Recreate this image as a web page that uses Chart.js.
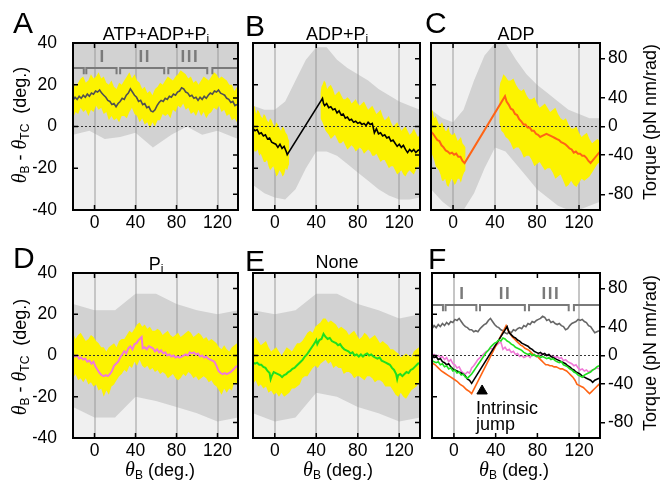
<!DOCTYPE html>
<html>
<head>
<meta charset="utf-8">
<script src="https://cdn.jsdelivr.net/npm/chart.js@4.4.1/dist/chart.umd.min.js"></script>
<style>
body { margin: 0; background: #fff; }
#wrap { position: relative; width: 660px; height: 487px; overflow: hidden; font-family: "Liberation Sans", Arial, sans-serif; }
#wrap canvas { position: absolute; left: 0; top: 0; }
.t { position: absolute; white-space: nowrap; color: #000; line-height: 1; z-index: 5; }
.let { font-size: 30px; }
.ttl { font-size: 18px; transform: translateX(-50%); }
.ax { font-size: 18px; }
.rot { transform: translate(-50%, -50%) rotate(-90deg); }
.hc { transform: translateX(-50%); }
.th { font-family: "Liberation Serif", serif; font-style: italic; font-size: 20px; }
sub { font-size: 12px; vertical-align: -3px; line-height: 0; }
</style>
</head>
<body>
<div id="wrap">
  <div class="t let" style="left:13px;top:8px">A</div>
  <div class="t let" style="left:245px;top:11px">B</div>
  <div class="t let" style="left:425px;top:8px">C</div>
  <div class="t let" style="left:13px;top:243px">D</div>
  <div class="t let" style="left:245px;top:246px">E</div>
  <div class="t let" style="left:428px;top:244px">F</div>

  <div class="t ttl" style="left:156px;top:25px">ATP+ADP+P<sub>i</sub></div>
  <div class="t ttl" style="left:337px;top:25px">ADP+P<sub>i</sub></div>
  <div class="t ttl" style="left:516px;top:25px">ADP</div>
  <div class="t ttl" style="left:156px;top:255px">P<sub>i</sub></div>
  <div class="t ttl" style="left:337px;top:253px">None</div>

  <div class="t ax rot" style="left:19px;top:125px"><span class="th">θ</span><sub>B</sub> - <span class="th">θ</span><sub>TC</sub>&nbsp; (deg.)</div>
  <div class="t ax rot" style="left:19px;top:357px"><span class="th">θ</span><sub>B</sub> - <span class="th">θ</span><sub>TC</sub>&nbsp; (deg.)</div>
  <div class="t ax rot" style="left:650px;top:122px">Torque (pN nm/rad)</div>
  <div class="t ax rot" style="left:650px;top:353px">Torque (pN nm/rad)</div>

  <div class="t ax hc" style="left:160px;top:459px"><span class="th">θ</span><sub>B</sub> (deg.)</div>
  <div class="t ax hc" style="left:338px;top:459px"><span class="th">θ</span><sub>B</sub> (deg.)</div>
  <div class="t ax hc" style="left:514px;top:459px"><span class="th">θ</span><sub>B</sub> (deg.)</div>

  <div class="t" style="left:476px;top:400px;font-size:18px;line-height:16px">Intrinsic<br>jump</div>
</div>

<script>
// axis values
const xMin = -21, xMax = 140;
const xTicks = [0, 40, 80, 120];
const degTicks = [-40, -20, 0, 20, 40];
const torqueTicks = [-80, -40, 0, 40, 80];
const torqueAt = [-32.5, -13.7, 0, 13.7, 32.5];   // deg position of each torque label

// dwell brackets (A and F)
const bracketStart = [-22, -8, 25, 72, 115];
const bracketEnd = [-10.5, 21.5, 68, 110, 141];
const romanText = ['I', 'II', 'III'];
const romanX = [8, 49, 93];

// mean traces [thetaB, thetaB - thetaTC]
const traceA = [[-21,12.5],[-19,14],[-17,13],[-15,14.5],[-13,13.5],[-11,15],[-9,14],[-7,15.5],[-5,14.5],[-3,16],[-1,15.5],[1,17],[3,16.5],[5,17.5],[7,16],[9,15],[11,14],[13,12.5],[15,12],[17,10.5],[19,11],[21,9.5],[23,11],[25,12],[27,13.5],[29,13],[31,15],[33,16],[35,18],[37,16.5],[39,15],[41,14],[43,12],[45,12.5],[47,10.5],[49,11],[51,9],[53,9.5],[55,7.5],[57,7],[59,8],[61,10],[63,11.5],[65,12.5],[67,12],[69,13.5],[71,13],[73,14.5],[75,14],[77,15.5],[79,15],[81,16.5],[83,17],[85,18.5],[87,18],[89,16.5],[91,16],[93,14.5],[95,15],[97,13.5],[99,14],[101,12.5],[103,14],[105,13],[107,14.5],[109,13.5],[111,15],[113,16],[115,15.5],[117,17],[119,16.5],[121,17.5],[123,16],[125,15.5],[127,15],[129,13.5],[131,13],[133,11.5],[135,12],[137,10],[139,10.5]];
const traceB = [[-21,-1],[-19,-2],[-17,-1.5],[-15,-3.5],[-13,-3],[-11,-4.5],[-9,-4],[-7,-6],[-5,-5.5],[-3,-7.5],[-1,-8],[1,-8.5],[3,-10],[5,-8.5],[7,-10.5],[9,-9.5],[11,-12],[12,-13.5],[46,13.5],[47,11],[48,10],[50,11],[52,9],[54,9.5],[56,8],[58,8.5],[60,6.5],[62,7.5],[64,5.5],[66,6],[68,4],[70,4.5],[72,3],[74,3.5],[76,2],[78,2.5],[80,1.5],[82,2],[84,1],[86,1.5],[88,0.5],[90,2],[92,1],[94,1.5],[96,-3],[98,-1],[100,-3.5],[102,-3],[104,-4.5],[106,-4],[108,-5.5],[110,-5],[112,-7],[114,-6.5],[116,-8],[118,-9.5],[120,-8.5],[122,-10],[124,-9],[126,-11],[128,-12.5],[130,-11],[132,-12],[134,-11],[136,-12.5],[138,-11.5],[140,-11]];
const traceC = [[-21,-2.5],[-19,-3.5],[-17,-5],[-15,-6.5],[-13,-7],[-11,-9],[-9,-10],[-7,-11.5],[-5,-12],[-3,-13],[-1,-12.5],[1,-13.5],[3,-13],[5,-14.5],[7,-14.5],[9,-16.5],[11,-17.5],[49.5,14.5],[51,12],[53,10.5],[55,8.5],[57,8],[59,6],[61,5.5],[63,3.5],[65,2.5],[67,1],[69,1],[71,-0.5],[73,-0.5],[75,-2],[77,-2],[79,-3.5],[81,-4],[83,-5],[85,-4.5],[87,-4],[89,-3.5],[91,-4],[93,-4.5],[95,-5],[97,-5.5],[99,-6],[101,-6.5],[103,-7.5],[105,-8],[107,-8.5],[109,-9.5],[111,-10.5],[113,-11],[115,-12.5],[117,-12],[119,-13],[121,-13],[123,-14],[125,-14],[127,-15],[129,-16.5],[131,-17.5],[140,-12]];
const traceD = [[-21,0.5],[-19,-0.5],[-17,0],[-15,-1.5],[-13,-1],[-11,-2],[-9,-1.5],[-7,-3],[-5,-2.5],[-3,-4],[-1,-3],[1,-5.5],[3,-7],[5,-8.5],[7,-9.5],[9,-10],[11,-9.5],[13,-10],[15,-9],[17,-7.5],[19,-5],[21,-4],[23,-3],[25,-1],[27,0.5],[29,2],[31,1],[33,3.5],[35,4.5],[37,3],[39,5.5],[41,6],[43,7.5],[45,8.5],[46,9],[47,3.5],[49,4],[51,3],[53,4.5],[55,4],[57,3.5],[59,2],[61,3],[63,1.5],[65,2.5],[67,1],[69,1.5],[71,0],[73,0.5],[75,-0.5],[77,0],[79,-1],[81,-0.5],[83,-1],[85,-0.5],[87,0],[89,0.5],[91,0],[93,1.5],[95,1],[97,1.5],[99,0.5],[101,1],[103,-0.5],[105,0],[107,-1],[109,-0.5],[111,-1.5],[113,-2],[115,-2.5],[117,-3],[119,-5],[121,-7.5],[123,-8.5],[125,-9],[127,-8.5],[129,-9],[131,-8.5],[133,-8],[135,-7],[137,-6],[139,-5]];
const traceE = [[-21,-3.5],[-19,-4],[-17,-3.5],[-15,-4.5],[-13,-4.5],[-11,-5.5],[-9,-6],[-7,-7.5],[-5,-8.5],[-4,-11.5],[-3,-10],[-1,-8],[1,-8.5],[3,-9],[5,-9.5],[7,-10.5],[9,-9.5],[11,-9],[13,-8],[15,-7.5],[17,-6.5],[19,-6],[21,-5],[23,-4],[25,-3],[27,-2],[29,-0.5],[31,0.5],[33,2],[35,3.5],[37,5],[39,6.5],[40,7.5],[41,5.5],[43,7.5],[45,8],[47,10.5],[49,9],[51,8],[53,8.5],[55,7],[57,6.5],[59,6],[61,5],[63,5.5],[65,4],[67,3],[69,2.5],[71,2],[73,1],[75,1.5],[77,0],[79,0.5],[81,-0.5],[83,0.5],[85,-0.5],[87,0.5],[89,1],[91,0],[93,0.5],[95,-0.5],[97,-1],[99,-1.5],[101,-1],[103,-2.5],[105,-3],[107,-3.5],[109,-4],[111,-4.5],[113,-6],[115,-7],[117,-9],[118,-11.5],[119,-9.5],[121,-9],[123,-10],[125,-9],[127,-8],[129,-8.5],[131,-7],[133,-6.5],[135,-5.5],[137,-4.5],[139,-3.5]];

// panel F traces
const fGray = [[-21,13],[-19,14.5],[-17,13.5],[-15,15],[-13,14],[-11,15.5],[-9,14.5],[-7,16],[-5,15],[-3,16.5],[-1,16],[1,17.5],[3,17],[5,18],[7,16.5],[9,15],[11,14],[13,13.5],[15,12.5],[17,12.5],[19,11.5],[21,12],[23,11.5],[25,13],[27,14],[29,15],[31,15.5],[33,17],[35,18],[37,16.5],[39,15],[41,14],[43,13.5],[45,12.5],[47,12],[49,11],[51,10.5],[53,11.5],[55,11],[57,12.5],[59,12],[61,13],[63,13.5],[65,13],[67,14.5],[69,14],[71,15.5],[73,15],[75,16.5],[77,16],[79,17],[81,17.5],[83,18],[85,19],[87,18.5],[89,17],[91,17.5],[93,16],[95,16.5],[97,15.5],[99,15],[101,15.5],[103,14.5],[105,14],[107,12.5],[109,13],[111,14.5],[113,15.5],[115,16],[117,16.5],[119,17.5],[121,17],[123,17.5],[125,16.5],[127,16],[129,14.5],[131,14],[133,12.5],[135,11],[137,11.5],[139,12]];
const fBlack = [[-21,0],[-19,-1],[-17,-0.5],[-15,-2],[-13,-1.5],[-11,-3],[-9,-3.5],[-7,-4.5],[-5,-4],[-3,-5.5],[-1,-6.5],[1,-7],[3,-7.5],[5,-8],[7,-8.5],[9,-9],[11,-10],[13,-11.5],[15,-12],[17,-13.5],[51,14],[53,11],[55,10],[57,9],[59,8.5],[61,7.5],[63,7],[65,6],[67,5.5],[69,5],[71,4.5],[73,3.5],[75,3],[77,2],[79,1.5],[81,1],[83,1.5],[85,0.5],[87,1],[89,0],[91,0.5],[93,-0.5],[95,-1],[97,-1.5],[99,-2],[101,-2.5],[103,-3],[105,-3.5],[107,-4],[109,-5],[111,-5.5],[113,-6.5],[115,-7],[117,-8],[119,-8.5],[121,-9],[123,-10],[125,-10.5],[127,-11],[129,-11.5],[131,-12],[133,-13],[135,-12],[137,-11.5],[139,-11]];
const fOrange = [[-21,-3.5],[-18,-4.5],[-15,-6],[-12,-7.5],[-9,-8.5],[-6,-9.5],[-3,-10.5],[0,-11.5],[3,-12.5],[6,-14],[9,-15],[12,-16.5],[15,-17.5],[17,-18.5],[50,14.5],[52,12],[54,10.5],[56,9],[58,8],[60,7],[62,6],[64,5],[66,4.5],[68,3.5],[70,3],[72,2.5],[74,1.5],[76,0.5],[78,0],[80,-0.5],[82,-1.5],[84,-2.5],[86,-3.5],[88,-4.5],[90,-4.5],[92,-5],[94,-5],[96,-5.5],[98,-5.5],[100,-6],[102,-6.5],[104,-6.5],[106,-7],[108,-7.5],[110,-8.5],[112,-9.5],[114,-10.5],[116,-12],[118,-14],[120,-14.5],[122,-15],[124,-15.5],[126,-16.5],[128,-17.5],[130,-18.5],[132,-17.5],[134,-16.5],[136,-15.5],[138,-14.5],[140,-13.5]];
const fPink = [[-21,0],[-19,0.5],[-17,-0.5],[-15,0],[-13,-1],[-11,-0.5],[-9,-2],[-7,-1],[-5,-3],[-3,-2],[-1,-4],[1,-4.5],[3,-6],[5,-5.5],[7,-7.5],[9,-8.5],[11,-9],[13,-8],[15,-8.5],[17,-6],[19,-5],[21,-3.5],[23,-2],[25,-1],[27,0],[29,1],[31,2],[33,2.5],[35,3.5],[37,3],[39,4.5],[41,5],[43,6],[45,6.5],[47,3],[49,4],[51,2.5],[53,3],[55,1.5],[57,2],[59,0.5],[61,1],[63,-0.5],[65,0],[67,-1],[69,-0.5],[71,0],[73,-1],[75,0.5],[77,0],[79,-0.5],[81,0.5],[83,0],[85,1],[87,0.5],[89,0],[91,0.5],[93,-0.5],[95,0],[97,-1],[99,-0.5],[101,-1.5],[103,-1],[105,-2.5],[107,-2],[109,-3],[111,-3.5],[113,-4],[115,-5],[117,-4.5],[119,-6],[121,-7],[123,-6.5],[125,-7.5],[127,-7],[129,-8],[131,-7.5],[133,-7],[135,-6.5],[137,-6],[139,-6.5]];
const fGreen = [[-21,-2.5],[-19,-3],[-17,-3.5],[-15,-3],[-13,-4.5],[-11,-4],[-9,-5.5],[-7,-5],[-5,-6.5],[-3,-6],[-1,-7.5],[1,-7],[3,-8.5],[5,-8],[7,-9.5],[9,-9],[11,-10.5],[13,-11],[15,-10],[17,-9],[19,-7.5],[21,-6],[23,-4.5],[25,-3],[27,-1.5],[29,0],[31,1.5],[33,2.5],[35,4],[37,5],[39,6],[41,6.5],[43,7.5],[45,7],[47,8.5],[49,8],[51,7],[53,6.5],[55,5.5],[57,5],[59,4],[61,3.5],[63,3],[65,2.5],[67,1.5],[69,1],[71,0.5],[73,1],[75,0],[77,0.5],[79,-0.5],[81,0],[83,-1],[85,-0.5],[87,-1],[89,-1.5],[91,-1],[93,-2],[95,-1.5],[97,-2.5],[99,-3],[101,-3.5],[103,-3],[105,-4.5],[107,-5],[109,-5.5],[111,-6.5],[113,-7],[115,-8],[117,-8.5],[119,-9.5],[121,-10],[123,-10.5],[125,-9.5],[127,-9],[129,-8.5],[131,-8],[133,-7],[135,-6.5],[137,-5.5],[139,-5]];
const jumpMark = [[27, -17.2]];

// yellow clouds [thetaB, upper, lower]
const yellowA = [[-21,22,4],[-18.5,19,7],[-16,21,6],[-13.5,23,9],[-11,24,7],[-8.5,21,8],[-6,22,5],[-3.5,25,8],[-1,23,7],[1.5,24,10],[4,26,8],[6.5,23,9],[9,24,6],[11.5,21,7],[14,20,3],[16.5,22,5],[19,19,3],[21.5,18,4],[24,21,2],[26.5,20,5],[29,22,5],[31.5,24,4],[34,26,7],[36.5,23,9],[39,25,6],[41.5,22,5],[44,21,2],[46.5,18,4],[49,19,1],[51.5,16,2],[54,17,-1],[56.5,15,2],[59,18,0],[61.5,19,3],[64,21,3],[66.5,20,6],[69,22,5],[71.5,24,6],[74,23,4],[76.5,22,8],[79,24,7],[81.5,25,10],[84,27,9],[86.5,26,11],[89,25,8],[91.5,23,9],[94,24,6],[96.5,21,7],[99,22,5],[101.5,20,8],[104,22,5],[106.5,24,7],[109,23,4],[111.5,22,6],[114,24,7],[116.5,26,9],[119,25,8],[121.5,23,10],[124,24,7],[126.5,23,8],[129,22,5],[131.5,20,6],[134,20,3],[136.5,17,4],[139,19,2]];
const yellowB1 = [[-21,8,-10],[-19.5,10,-12],[-18,6,-12],[-16.5,8,-11],[-15,7,-14],[-13.5,5,-13],[-12,4,-15],[-10.5,6,-17],[-9,5,-17],[-7.5,3,-16],[-6,2,-19],[-4.5,4,-21],[-3,3,-20],[-1.5,1,-19],[0,0,-21],[1.5,2,-24],[3,1,-23],[4.5,-1,-21],[6,-2,-22],[7.5,0,-24],[9,-1,-23],[10.5,-3,-20],[12,-4,-21],[13,-6,-19],[14,-7,-18]];
const yellowB2 = [[44,16,4],[45,19,3],[46,20,2],[47.5,22,0],[49,21,-2],[50.5,18,-3],[52,19,-4],[54,20,-6],[56,18,-5],[58,15,-4],[60,16,-6],[62,17,-8],[64,15,-8],[66,13,-7],[68,13,-9],[70,14,-11],[72,13,-10],[74,11,-9],[76,12,-10],[78,13,-12],[80,11,-11],[82,10,-10],[84,11,-11],[86,12,-13],[88,10,-12],[90,8,-11],[92,9,-12],[94,10,-14],[96,8,-14],[98,6,-13],[100,7,-15],[102,8,-17],[104,5,-16],[106,3,-16],[108,4,-18],[110,5,-20],[112,2,-19],[114,0,-19],[116,1,-21],[118,2,-23],[120,0,-22],[122,-2,-21],[124,-1,-23],[126,0,-24],[128,-2,-22],[130,-4,-21],[132,-3,-22],[134,-1,-23],[136,-3,-21],[138,-5,-19],[140,-4,-20]];
const yellowC1 = [[-21,6,-12],[-19.5,8,-14],[-18,4,-16],[-16.5,5,-19],[-15,3,-20],[-13.5,1,-21],[-12,1,-23],[-10.5,2,-26],[-9,0,-26],[-7.5,-2,-25],[-6,-2,-28],[-4.5,0,-29],[-3,-3,-27],[-1.5,-4,-25],[0,-4,-26],[1.5,-3,-28],[3,-5,-27],[4.5,-7,-25],[6,-6,-25],[7.5,-5,-27],[9,-8,-24],[10.5,-9,-22],[12,-10,-21]];
const yellowC2 = [[44,18,2],[45,21,0],[46,22,-2],[48,25,-3],[50,24,-5],[52.5,22,-6],[55,22,-8],[57.5,23,-11],[60,20,-10],[62.5,18,-10],[65,17,-12],[67.5,18,-15],[70,15,-14],[72.5,13,-14],[75,13,-16],[77.5,14,-19],[80,11,-18],[82.5,9,-17],[85,10,-19],[87.5,11,-21],[90,9,-20],[92.5,7,-20],[95,8,-22],[97.5,9,-25],[100,6,-24],[102.5,4,-23],[105,3,-26],[107.5,4,-29],[110,1,-28],[112.5,-1,-26],[115,-1,-28],[117.5,0,-29],[120,-3,-27],[122.5,-5,-25],[125,-4,-26],[127.5,-3,-25],[130,-6,-24],[132.5,-8,-22],[135,-7,-20],[137.5,-6,-18],[140,-7,-17]];
const yellowD = [[-21,11,-11],[-18.5,8,-9],[-16,10,-12],[-13.5,11,-11],[-11,9,-13],[-8.5,7,-11],[-6,8,-14],[-3.5,10,-13],[-1,9,-15],[1.5,7,-14],[4,6,-17],[6.5,4,-16],[9,4,-20],[11.5,2,-17],[14,4,-19],[16.5,5,-15],[19,6,-14],[21.5,4,-12],[24,7,-10],[26.5,8,-9],[29,8,-7],[31.5,10,-8],[34,12,-5],[36.5,11,-6],[39,13,-3],[41.5,15,-5],[44,16,-2],[46.5,14,-5],[49,15,-6],[51.5,13,-5],[54,14,-7],[56.5,12,-6],[59,12,-8],[61.5,13,-7],[64,12,-9],[66.5,10,-8],[69,11,-9],[71.5,12,-11],[74,10,-10],[76.5,9,-9],[79,10,-11],[81.5,11,-12],[84,9,-11],[86.5,10,-9],[89,11,-10],[91.5,12,-8],[94,11,-9],[96.5,9,-11],[99,10,-10],[101.5,11,-12],[104,10,-11],[106.5,8,-10],[109,9,-11],[111.5,7,-13],[114,8,-12],[116.5,7,-14],[119,6,-15],[121.5,4,-17],[124,3,-19],[126.5,5,-16],[129,3,-18],[131.5,2,-16],[134,4,-17],[136.5,5,-13],[139,6,-14]];
const yellowE = [[-21,7,-14],[-18.5,9,-12],[-16,7,-15],[-13.5,5,-14],[-11,6,-16],[-8.5,7,-15],[-6,4,-18],[-3.5,2,-17],[-1,3,-19],[1.5,4,-18],[4,2,-20],[6.5,0,-18],[9,2,-20],[11.5,4,-19],[14,3,-18],[16.5,2,-16],[19,4,-16],[21.5,6,-15],[24,6,-14],[26.5,7,-11],[29,9,-10],[31.5,11,-10],[34,12,-8],[36.5,11,-6],[39,14,-5],[41.5,15,-6],[44,16,-4],[46.5,18,-3],[49,18,-2],[51.5,16,-4],[54,17,-3],[56.5,16,-6],[59,15,-5],[61.5,13,-6],[64,14,-6],[66.5,13,-9],[69,12,-8],[71.5,10,-8],[74,11,-9],[76.5,12,-11],[79,10,-10],[81.5,8,-10],[84,9,-11],[86.5,11,-12],[89,10,-10],[91.5,8,-10],[94,9,-11],[96.5,10,-13],[99,8,-12],[101.5,6,-12],[104,7,-13],[106.5,6,-15],[109,5,-15],[111.5,3,-15],[114,3,-17],[116.5,2,-19],[119,1,-20],[121.5,-1,-18],[124,0,-20],[126.5,1,-21],[129,0,-19],[131.5,-1,-17],[134,2,-16],[136.5,3,-15],[139,4,-13]];

// grey clouds [thetaB, upper, lower]
const greyA = [[-21,45,-4],[-5,45,-2],[10,45,-6],[25,45,-5],[40,45,-3],[57,45,-10],[75,45,-4],[90,45,0],[105,45,-4],[120,45,-2],[140,45,-6]];
const greyB = [[-21,10,-28],[-10,8,-32],[0,8,-34],[10,12,-35],[20,22,-30],[30,32,-20],[40,38,-12],[50,38,-12],[60,32,-14],[70,28,-18],[80,25,-22],[90,22,-26],[100,18,-30],[110,15,-33],[120,12,-35],[130,10,-35],[140,8,-34]];
const greyC = [[-21,8,-30],[-10,4,-36],[0,2,-40],[10,8,-40],[20,22,-32],[30,34,-20],[40,40,-10],[50,40,-12],[60,32,-18],[70,25,-24],[80,20,-30],[90,16,-34],[100,12,-38],[110,8,-40],[120,6,-40],[130,4,-38],[140,4,-36]];
const greyD = [[-21,25,-25],[0,22,-30],[20,22,-30],[40,30,-20],[60,30,-22],[80,25,-25],[100,22,-28],[120,20,-32],[140,22,-30]];
const greyE = [[-21,22,-28],[0,20,-32],[20,22,-30],[40,30,-18],[60,30,-20],[80,25,-25],[100,22,-28],[120,18,-32],[140,20,-30]];

const FONT = '"Liberation Sans", Arial, sans-serif';
const YELLOW = '#fcf300';
const GREY = 'rgba(150,150,150,0.33)';

const boxes = {
    A: { l: 73, r: 238, t: 43, b: 210 },
    B: { l: 253, r: 420, t: 43, b: 210 },
    C: { l: 431, r: 600, t: 43, b: 210 },
    D: { l: 73, r: 238, t: 273, b: 438 },
    E: { l: 253, r: 420, t: 273, b: 438 },
    F: { l: 432, r: 600, t: 273, b: 438 }
};

const pts = arr => arr.map(p => ({ x: p[0], y: p[1] }));

const trace = (arr, color, order, width = 1.6) => ({
    data: pts(arr), borderColor: color, borderWidth: width,
    pointRadius: 0, fill: false, tension: 0, order
});

// two datasets, the upper one filled down to the lower one
const band = (arr, color, order) => [
    { data: arr.map(p => ({ x: p[0], y: p[1] })), borderColor: 'rgba(0,0,0,0)', borderWidth: 0,
      pointRadius: 0, fill: '+1', backgroundColor: color, tension: 0, order },
    { data: arr.map(p => ({ x: p[0], y: p[2] })), borderColor: 'rgba(0,0,0,0)', borderWidth: 0,
      pointRadius: 0, fill: false, tension: 0, order }
];

const zeroLine = () => ({
    data: [{ x: xMin, y: 0 }, { x: xMax, y: 0 }], borderColor: '#333', borderWidth: 1,
    borderDash: [2, 2], pointRadius: 0, fill: false, order: 2
});

const brackets = (top, drop) => {
    const out = [];
    bracketStart.forEach((s, i) => {
        const e = bracketEnd[i];
        out.push({ x: s, y: top - drop }, { x: s, y: top }, { x: e, y: top }, { x: e, y: top - drop }, { x: e, y: null });
    });
    return { data: out, borderColor: '#7a7a7a', borderWidth: 2, pointRadius: 0, fill: false, spanGaps: false, order: 1 };
};

// frame, inward ticks and roman labels
const framePlugin = {
    id: 'frame',
    beforeDraw(chart, args, o) {
        const { ctx, chartArea: a } = chart;
        ctx.save();
        ctx.fillStyle = o.bg;
        ctx.fillRect(a.left, a.top, a.right - a.left, a.bottom - a.top);
        ctx.restore();
    },
    afterDatasetsDraw(chart, args, o) {
        const { ctx, chartArea: a, scales } = chart;
        ctx.save();
        if (o.romanY !== undefined) {
            ctx.fillStyle = '#7a7a7a';
            ctx.font = 'bold 17px ' + FONT;
            ctx.letterSpacing = '1.5px';
            ctx.textAlign = 'center';
            ctx.textBaseline = 'middle';
            romanText.forEach((txt, i) => {
                ctx.fillText(txt, scales.x.getPixelForValue(romanX[i]), scales.y.getPixelForValue(o.romanY));
            });
            ctx.letterSpacing = '0px';
        }
        ctx.strokeStyle = '#000';
        ctx.lineWidth = 1.5;
        ctx.beginPath();
        xTicks.forEach(v => {
            const x = scales.x.getPixelForValue(v);
            ctx.moveTo(x, a.bottom); ctx.lineTo(x, a.bottom - 5);
            ctx.moveTo(x, a.top); ctx.lineTo(x, a.top + 5);
        });
        [-20, 0, 20].forEach(v => {
            const y = scales.y.getPixelForValue(v);
            ctx.moveTo(a.left, y); ctx.lineTo(a.left + 5, y);
            if (!o.rightLabels) { ctx.moveTo(a.right, y); ctx.lineTo(a.right - 5, y); }
        });
        if (!o.rightLabels) {
            torqueAt.forEach(v => {
                const y = scales.y.getPixelForValue(v);
                ctx.moveTo(a.right, y); ctx.lineTo(a.right - 5, y);
            });
        }
        ctx.stroke();
        ctx.lineWidth = 2;
        ctx.strokeRect(a.left, a.top, a.right - a.left, a.bottom - a.top);
        ctx.restore();
    }
};

const tickFont = { family: FONT, size: 17.5 };

function panel(box, datasets, cfg) {
    const cv = document.createElement('canvas');
    cv.width = 660;
    cv.height = 487;
    document.getElementById('wrap').appendChild(cv);
    return new Chart(cv, {
        type: 'line',
        data: { datasets },
        plugins: [framePlugin],
        options: {
            responsive: false,
            animation: false,
            devicePixelRatio: 1,
            events: [],
            layout: { padding: { left: box.l - 40, right: 660 - box.r - 45, top: box.t, bottom: 487 - box.b - 30 } },
            plugins: { legend: { display: false }, tooltip: { enabled: false }, frame: cfg },
            scales: {
                x: {
                    type: 'linear', min: xMin, max: xMax,
                    afterBuildTicks: s => { s.ticks = xTicks.map(v => ({ value: v })); },
                    afterFit: s => { s.height = 30; },
                    grid: {
                        z: -1, drawTicks: false, lineWidth: 2,
                        color: c => (c.tick && cfg.grid.includes(c.tick.value)) ? '#c6c6c6' : 'rgba(0,0,0,0)'
                    },
                    border: { display: false },
                    ticks: { color: '#000', font: tickFont, padding: 3, maxRotation: 0, autoSkip: false }
                },
                y: {
                    min: -40, max: 40,
                    afterBuildTicks: s => { s.ticks = degTicks.map(v => ({ value: v })); },
                    afterFit: s => { s.width = 40; },
                    grid: { display: false },
                    border: { display: false },
                    ticks: { display: cfg.leftLabels, color: '#000', font: tickFont, padding: 8 }
                },
                y2: {
                    position: 'right', min: -40, max: 40,
                    afterBuildTicks: s => { s.ticks = torqueAt.map(v => ({ value: v })); },
                    afterFit: s => { s.width = 45; },
                    grid: { display: cfg.rightLabels, drawOnChartArea: false, drawTicks: true, tickLength: 5, color: '#000', lineWidth: 1.5 },
                    border: { display: false },
                    ticks: { display: cfg.rightLabels, color: '#000', font: tickFont, padding: 3,
                             callback: (v, i) => String(torqueTicks[i]) }
                }
            }
        }
    });
}

const allGrid = [0, 40, 80, 120];

panel(boxes.A, [
    trace(traceA, '#505050', 0),
    brackets(28, 3),
    zeroLine(),
    ...band(yellowA, YELLOW, 3),
    ...band(greyA, GREY, 5)
], { bg: '#f0f0f0', grid: allGrid, leftLabels: true, rightLabels: false, romanY: 33 });

panel(boxes.B, [
    trace(traceB, '#000', 0),
    zeroLine(),
    ...band(yellowB1, YELLOW, 3),
    ...band(yellowB2, YELLOW, 3),
    ...band(greyB, GREY, 5)
], { bg: '#f0f0f0', grid: allGrid, leftLabels: false, rightLabels: false });

panel(boxes.C, [
    trace(traceC, '#ff6414', 0, 2),
    zeroLine(),
    ...band(yellowC1, YELLOW, 3),
    ...band(yellowC2, YELLOW, 3),
    ...band(greyC, GREY, 5)
], { bg: '#f0f0f0', grid: allGrid, leftLabels: false, rightLabels: true });

panel(boxes.D, [
    trace(traceD, '#f07ad8', 0, 2),
    zeroLine(),
    ...band(yellowD, YELLOW, 3),
    ...band(greyD, GREY, 5)
], { bg: '#f0f0f0', grid: allGrid, leftLabels: true, rightLabels: false });

panel(boxes.E, [
    trace(traceE, '#1fe01f', 0, 2),
    zeroLine(),
    ...band(yellowE, YELLOW, 3),
    ...band(greyE, GREY, 5)
], { bg: '#f0f0f0', grid: allGrid, leftLabels: false, rightLabels: false });

panel(boxes.F, [
    { data: pts(jumpMark), showLine: false, pointStyle: 'triangle', pointRadius: 6,
      pointBackgroundColor: '#000', pointBorderColor: '#000', order: 0 },
    trace(fGreen, '#1fe01f', 1),
    trace(fBlack, '#000', 2),
    trace(fOrange, '#ff6414', 3),
    trace(fPink, '#f07ad8', 4),
    trace(fGray, '#666', 5),
    brackets(24.5, 3),
    zeroLine()
], { bg: '#fff', grid: [0, 120], leftLabels: false, rightLabels: true, romanY: 29.5 });
</script>
</body>
</html>
